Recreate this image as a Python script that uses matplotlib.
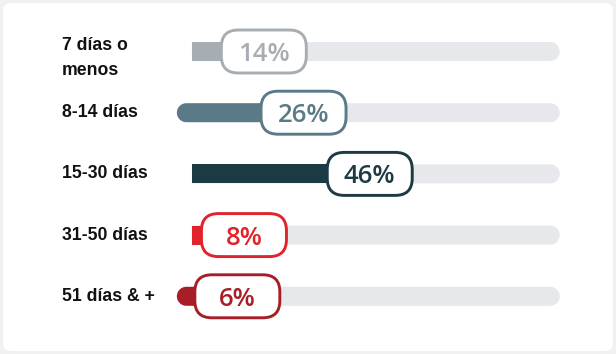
import numpy as np
import matplotlib
matplotlib.use("Agg")
import matplotlib.pyplot as plt
from matplotlib.patches import FancyBboxPatch, PathPatch
from matplotlib.path import Path
from matplotlib.transforms import IdentityTransform, blended_transform_factory

# ---- data ----
categories = ["7 días o\nmenos", "8-14 días", "15-30 días", "31-50 días", "51 días & +"]
values = [14, 26, 46, 8, 6]
value_labels = ["14%", "26%", "46%", "8%", "6%"]

# ---- styles ----
colors = ["#a6adb3", "#5a7a87", "#1c3a43", "#e1232b", "#a81e26"]
round_start = [False, True, False, False, True]
track_color = "#e6e8eb"

W, H, DPI = 616, 354, 100
fig = plt.figure(figsize=(W / DPI, H / DPI), dpi=DPI, facecolor="#f1f1f1")
ax = fig.add_axes([0, 0, 1, 1], zorder=1)
ax.set_facecolor("none")
ax.set_xlim(-65.7, 120.4)
ax.set_ylim(4.943, -0.8415)
ax.axis("off")

ident = IdentityTransform()

# white card
fig.patches.append(FancyBboxPatch((3, 3), W - 6, H - 6,
                                  boxstyle="round,pad=0,rounding_size=8",
                                  fc="white", ec="none", transform=ident,
                                  figure=fig, zorder=-10))

track_start, track_end, ext_start = -7.73, 103.4, -12.27
bar_h = 19
box_w, box_h = 85, 43


def pill(x0, x1, yi, h, color, rl, rr, z):
    (a, yc), (b, _) = ax.transData.transform([(x0, yi), (x1, yi)])
    r = h / 2
    pts = []
    # right end (bottom -> top)
    if rr:
        th = np.linspace(-np.pi / 2, np.pi / 2, 40)
        pts += [(b - r + r * np.cos(t), yc + r * np.sin(t)) for t in th]
    else:
        pts += [(b, yc - r), (b, yc + r)]
    # left end (top -> bottom)
    if rl:
        th = np.linspace(np.pi / 2, 3 * np.pi / 2, 40)
        pts += [(a + r + r * np.cos(t), yc + r * np.sin(t)) for t in th]
    else:
        pts += [(a, yc + r), (a, yc - r)]
    pts.append(pts[0])
    codes = [Path.MOVETO] + [Path.LINETO] * (len(pts) - 2) + [Path.CLOSEPOLY]
    ax.add_patch(PathPatch(Path(pts, codes), fc=color, ec="none",
                           transform=ident, zorder=z))


lab_tr = blended_transform_factory(fig.transFigure, ax.transData)

for i, (cat, v, lab, c, rs) in enumerate(zip(categories, values, value_labels,
                                               colors, round_start)):
    # track
    pill(track_start, track_end, i, bar_h, track_color, False, True, 1)
    # bar
    pill(ext_start if rs else track_start, v, i, bar_h, c, rs, False, 2)
    # label box
    cx, cy = ax.transData.transform((v, i))
    ax.add_patch(FancyBboxPatch((cx - box_w / 2, cy - box_h / 2), box_w, box_h,
                                boxstyle="round,pad=0,rounding_size=17",
                                fc="white", ec=c, lw=2.1, transform=ident,
                                zorder=5))
    ax.text(v, i, lab, ha="center", va="center_baseline", fontsize=18.5,
            family="Open Sans", weight="semibold", color=c, zorder=6)
    # category label
    ax.text(62 / W, i + (0.11 if "\n" in cat else 0.0), cat, transform=lab_tr,
            ha="left", va="center", fontsize=12.7, family="Liberation Sans",
            weight="bold", color="#111111", linespacing=1.6)

fig.savefig("out.png", dpi=DPI, facecolor=fig.get_facecolor())
